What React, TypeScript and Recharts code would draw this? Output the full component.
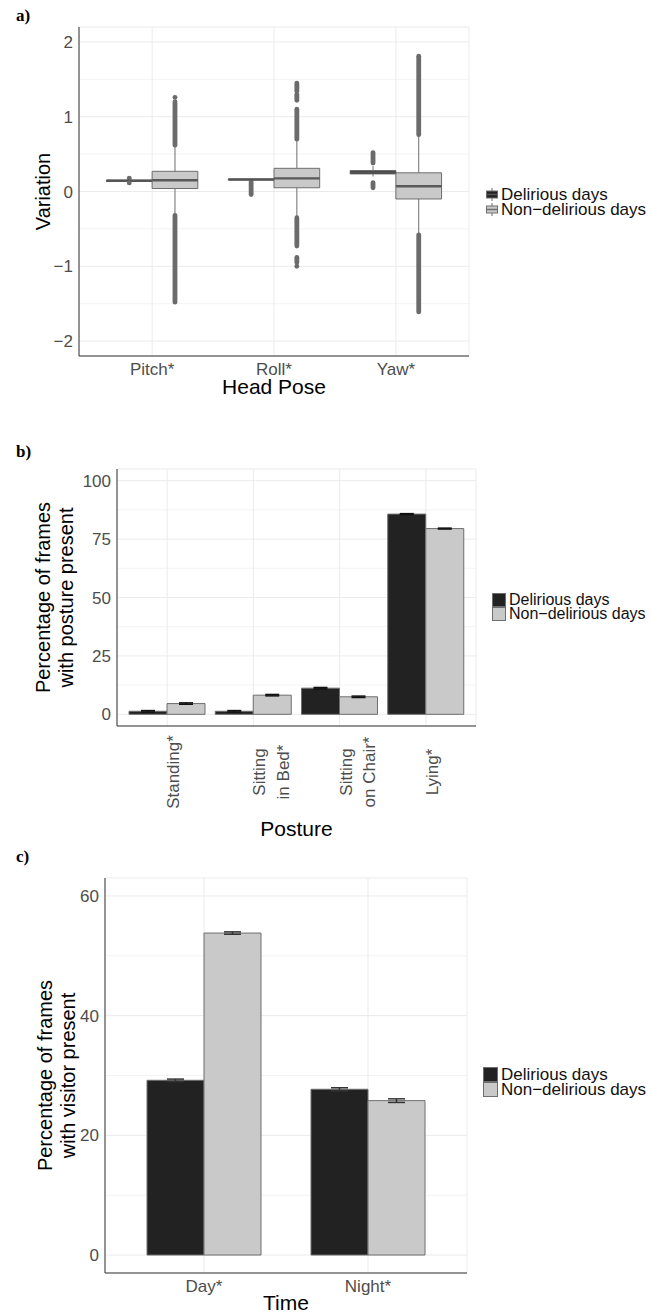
import React from 'react';
import {
  ComposedChart, BarChart, Bar, XAxis, YAxis, CartesianGrid, ErrorBar, Legend,
  ReferenceArea, ReferenceLine, ReferenceDot, Label,
} from 'recharts';

const FONT = '"Liberation Sans", Arial, Helvetica, sans-serif';
const TICK_GRAY = '#4d4d4d';
const DARK = '#222222';
const LIGHT = '#c9c9c9';
const EDGE = '#6e6e6e';
const GRID = '#ebebeb';
const MINOR = '#f3f3f3';
const AXIS = '#333333';

const groups = ['Delirious days', 'Non\u2212delirious days'];
const groupFills = [DARK, LIGHT];

// a) head pose variation, boxplot stats: [whiskerLow, q1, median, q3, whiskerHigh]
const poses = ['Pitch*', 'Roll*', 'Yaw*'];
const poseDelirious = [
  [0.135, 0.135, 0.143, 0.152, 0.152],
  [0.155, 0.155, 0.16, 0.166, 0.166],
  [0.2, 0.235, 0.255, 0.28, 0.34],
];
const poseNonDelirious = [
  [-0.3, 0.04, 0.15, 0.27, 0.6],
  [-0.33, 0.05, 0.175, 0.31, 0.68],
  [-0.57, -0.1, 0.07, 0.25, 0.75],
];
// runs of overlapping outlier dots [from, to]
const poseDeliriousOutliers = [
  [[0.115, 0.115], [0.175, 0.18]],
  [[-0.04, 0.13]],
  [[0.05, 0.12], [0.38, 0.52]],
];
const poseNonDeliriousOutliers = [
  [[-1.48, -0.32], [0.62, 1.2], [1.26, 1.26]],
  [[-1.0, -1.0], [-0.95, -0.88], [-0.73, -0.35], [0.7, 1.1], [1.22, 1.3], [1.34, 1.45]],
  [[-1.61, -0.58], [0.76, 1.81]],
];
const poseTicks = [-2, -1, 0, 1, 2];

// b) posture
const postures = ['Standing*', 'Sitting\nin Bed*', 'Sitting\non Chair*', 'Lying*'];
const postureDelirious = [1.3, 1.3, 11.2, 85.7];
const postureNonDelirious = [4.6, 8.2, 7.5, 79.5];
const postureDeliriousErr = [0.3, 0.3, 0.3, 0.2];
const postureNonDeliriousErr = [0.3, 0.3, 0.3, 0.2];
const postureTicks = [0, 25, 50, 75, 100];

// c) visitor by time
const times = ['Day*', 'Night*'];
const visitorDelirious = [29.2, 27.7];
const visitorNonDelirious = [53.8, 25.8];
const visitorDeliriousErr = [0.2, 0.25];
const visitorNonDeliriousErr = [0.2, 0.3];
const visitorTicks = [0, 20, 40, 60];

const postureRows = postures.map((p, i) => ({
  posture: p, del: postureDelirious[i], non: postureNonDelirious[i],
  delErr: postureDeliriousErr[i], nonErr: postureNonDeliriousErr[i],
}));
const visitorRows = times.map((t, i) => ({
  time: t, del: visitorDelirious[i], non: visitorNonDelirious[i],
  delErr: visitorDeliriousErr[i], nonErr: visitorNonDeliriousErr[i],
}));

const minusFmt = (v: number) => (v < 0 ? `\u2212${-v}` : `${v}`);

const tickStyle = { fontSize: 17, fill: TICK_GRAY, fontFamily: FONT };

const yTitle = (lines: string[], centers: number[]) => (props: any) => {
  const vb = props.viewBox;
  const cy = vb.y + vb.height / 2;
  return (
    <g>
      {lines.map((l, i) => (
        <text key={i} transform={`translate(${centers[i]},${cy}) rotate(-90)`} textAnchor="middle"
          dominantBaseline="central" fontSize={20} fill="#000" fontFamily={FONT}>{l}</text>
      ))}
    </g>
  );
};

const xTitle = (text: string, dy: number) => (props: any) => {
  const vb = props.viewBox;
  return (
    <text x={vb.x + vb.width / 2} y={vb.y + dy} textAnchor="middle" fontSize={21} fill="#000" fontFamily={FONT}>
      {text}
    </text>
  );
};

const PostureTick = (props: any) => {
  const { x, y, payload } = props;
  const lines = String(payload.value).split('\n');
  return (
    <g>
      {lines.map((line, i) => (
        <text key={i} transform={`translate(${x + 12 + i * 23.5},${y + 39}) rotate(-90)`} textAnchor="middle"
          fontSize={17} fill={TICK_GRAY} fontFamily={FONT}>{line}</text>
      ))}
    </g>
  );
};

const legendContent = (padLeft: number, rowH: number, keyW: number, boxGlyph: boolean, fontSize: number) => () => (
  <div style={{ width: 170, paddingLeft: padLeft, boxSizing: 'border-box', fontFamily: FONT }}>
    {groups.map((g, i) => (
      <div key={g} style={{ display: 'flex', alignItems: 'center', height: rowH }}>
        <svg width={keyW} height={rowH} style={{ display: 'block', overflow: 'visible' }}>
          {boxGlyph ? (
            <g>
              <line x1={keyW / 2} x2={keyW / 2} y1={1} y2={rowH - 1} stroke={EDGE} />
              <rect x={0.5} y={rowH / 2 - 3.5} width={keyW - 1} height={7} fill={groupFills[i]} stroke={EDGE} />
              <line x1={0.5} x2={keyW - 0.5} y1={rowH / 2} y2={rowH / 2} stroke={i === 0 ? '#555' : EDGE} strokeWidth={1.5} />
            </g>
          ) : (
            <rect x={0.5} y={0.5} width={keyW - 1} height={rowH - 1} fill={groupFills[i]} stroke={EDGE} />
          )}
        </svg>
        <span style={{ fontSize, lineHeight: `${rowH}px`, marginLeft: 3, color: '#111', whiteSpace: 'nowrap' }}>{g}</span>
      </div>
    ))}
  </div>
);

const DODGE = 0.1875;
const HALF = 0.1875;

const renderBoxes = (stats: number[][], outliers: number[][][], side: number, fill: string, medianColor: string, tag: string) =>
  stats.flatMap((s, i) => {
    const cx = i + 1 + side * DODGE;
    const [lo, q1, med, q3, hi] = s;
    const out: React.ReactNode[] = [];
    out.push(<ReferenceLine key={`${tag}wh${i}`} segment={[{ x: cx, y: q3 }, { x: cx, y: hi }]} stroke={EDGE} strokeWidth={1} />);
    out.push(<ReferenceLine key={`${tag}wl${i}`} segment={[{ x: cx, y: lo }, { x: cx, y: q1 }]} stroke={EDGE} strokeWidth={1} />);
    outliers[i].forEach(([a, b], j) => {
      if (a === b) {
        out.push(<ReferenceDot key={`${tag}od${i}-${j}`} x={cx} y={a} r={2.4} fill="#6b6b6b" stroke="none" />);
      } else {
        out.push(<ReferenceLine key={`${tag}o${i}-${j}`} segment={[{ x: cx, y: a }, { x: cx, y: b }]} stroke="#6b6b6b" strokeWidth={4.8} strokeLinecap="round" />);
      }
    });
    out.push(<ReferenceArea key={`${tag}b${i}`} x1={cx - HALF} x2={cx + HALF} y1={q1} y2={q3} fill={fill} fillOpacity={1} stroke={EDGE} strokeWidth={1} />);
    out.push(<ReferenceLine key={`${tag}m${i}`} segment={[{ x: cx - HALF, y: med }, { x: cx + HALF, y: med }]} stroke={medianColor} strokeWidth={2.4} />);
    return out;
  });

const PanelLabel = ({ text, top }: { text: string; top: number }) => (
  <div style={{ position: 'absolute', left: 16, top, fontFamily: '"Liberation Serif", serif', fontWeight: 'bold', fontSize: 17, lineHeight: '17px' }}>
    {text}
  </div>
);

export default function App() {
  const poseAnchors = poses.map((_, i) => ({ x: i + 1 }));
  return (
    <div style={{ position: 'absolute', left: 0, top: 0, width: 651, height: 1314, background: '#fff', fontFamily: FONT }}>
      <PanelLabel text="a)" top={7} />
      <PanelLabel text="b)" top={443} />
      <PanelLabel text="c)" top={848} />

      <div style={{ position: 'absolute', left: 0, top: 0 }}>
        <ComposedChart width={651} height={400} data={poseAnchors} margin={{ top: 27, right: 12, bottom: 4, left: 39 }}>
          <CartesianGrid horizontalValues={[-1.5, -0.5, 0.5, 1.5]} vertical={false} stroke={MINOR} />
          <CartesianGrid stroke={GRID} />
          <XAxis type="number" dataKey="x" domain={[0.4, 3.6]} allowDataOverflow ticks={[1, 2, 3]}
            tickFormatter={(v: number) => poses[v - 1]} height={40} tickSize={5} tickMargin={2} tickLine={false}
            axisLine={{ stroke: AXIS }} tick={tickStyle}>
            <Label content={xTitle('Head Pose', 38)} />
          </XAxis>
          <YAxis type="number" domain={[-2.2, 2.2]} allowDataOverflow ticks={poseTicks} tickFormatter={minusFmt}
            width={40} tickSize={4} tickMargin={2} tickLine={false} axisLine={{ stroke: AXIS }} tick={tickStyle}>
            <Label content={yTitle(['Variation'], [43])} />
          </YAxis>
          {renderBoxes(poseDelirious, poseDeliriousOutliers, -1, DARK, '#555555', 'd')}
          {renderBoxes(poseNonDelirious, poseNonDeliriousOutliers, 1, LIGHT, '#595959', 'n')}
          <Legend layout="vertical" align="right" verticalAlign="top" content={legendContent(17, 15, 12, true, 17)}
            wrapperStyle={{ top: 187 }} />
        </ComposedChart>
      </div>

      <div style={{ position: 'absolute', left: 0, top: 400 }}>
        <BarChart width={651} height={440} data={postureRows} barGap={0} margin={{ top: 69, right: 5, bottom: 4, left: 57 }}>
          <CartesianGrid horizontalValues={[12.5, 37.5, 62.5, 87.5]} vertical={false} stroke={MINOR} />
          <CartesianGrid stroke={GRID} />
          <XAxis dataKey="posture" padding={{ left: 7, right: 7 }} interval={0} height={110} tickSize={5} tickMargin={2}
            tickLine={false} axisLine={{ stroke: AXIS }} tick={PostureTick}>
            <Label content={xTitle('Posture', 110)} />
          </XAxis>
          <YAxis type="number" domain={[-5, 105]} allowDataOverflow ticks={postureTicks} width={60} tickSize={4} tickMargin={2}
            tickLine={false} axisLine={{ stroke: AXIS }} tick={tickStyle}>
            <Label content={yTitle(['Percentage of frames', 'with posture present'], [43, 66])} />
          </YAxis>
          <Bar dataKey="del" name={groups[0]} fill={DARK} stroke={EDGE} barSize={38} isAnimationActive={false}>
            <ErrorBar dataKey="delErr" width={7} stroke="#111" strokeWidth={1.5} />
          </Bar>
          <Bar dataKey="non" name={groups[1]} fill={LIGHT} stroke={EDGE} barSize={38} isAnimationActive={false}>
            <ErrorBar dataKey="nonErr" width={7} stroke="#111" strokeWidth={1.5} />
          </Bar>
          <Legend layout="vertical" align="right" verticalAlign="top" content={legendContent(16, 14, 14, false, 16)}
            wrapperStyle={{ top: 193 }} />
        </BarChart>
      </div>

      <div style={{ position: 'absolute', left: 0, top: 840 }}>
        <BarChart width={651} height={474} data={visitorRows} barGap={0} margin={{ top: 38, right: 14, bottom: 4, left: 45 }}>
          <CartesianGrid horizontalValues={[10, 30, 50]} vertical={false} stroke={MINOR} />
          <CartesianGrid stroke={GRID} />
          <XAxis dataKey="time" padding={{ left: 17, right: 17 }} interval={0} height={37} tickSize={5} tickMargin={2}
            tickLine={false} axisLine={{ stroke: AXIS }} tick={tickStyle}>
            <Label content={xTitle('Time', 37)} />
          </XAxis>
          <YAxis type="number" domain={[-3, 63]} allowDataOverflow ticks={visitorTicks} width={60} tickSize={4} tickMargin={2}
            tickLine={false} axisLine={{ stroke: AXIS }} tick={tickStyle}>
            <Label content={yTitle(['Percentage of frames', 'with visitor present'], [45, 68])} />
          </YAxis>
          <Bar dataKey="del" name={groups[0]} fill={DARK} stroke={EDGE} barSize={57} isAnimationActive={false}>
            <ErrorBar dataKey="delErr" width={8.5} stroke="#333" strokeWidth={1.5} />
          </Bar>
          <Bar dataKey="non" name={groups[1]} fill={LIGHT} stroke={EDGE} barSize={57} isAnimationActive={false}>
            <ErrorBar dataKey="nonErr" width={8.5} stroke="#333" strokeWidth={1.5} />
          </Bar>
          <Legend layout="vertical" align="right" verticalAlign="top" content={legendContent(16, 15, 15, false, 17)}
            wrapperStyle={{ top: 227 }} />
        </BarChart>
      </div>
    </div>
  );
}
